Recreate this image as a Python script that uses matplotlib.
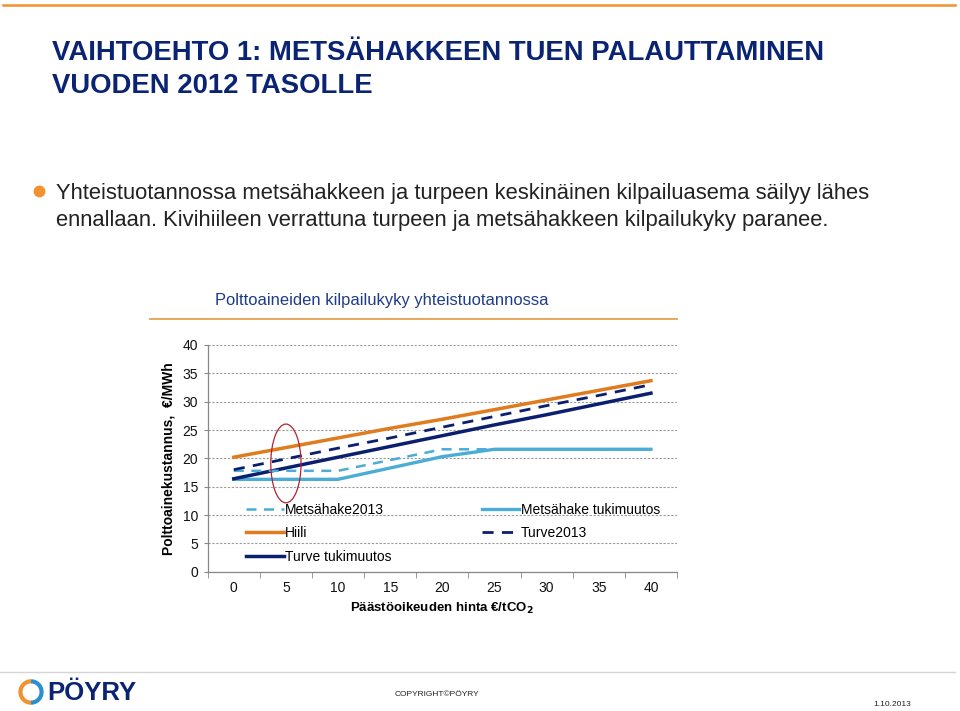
import matplotlib
matplotlib.use("Agg")
import matplotlib.pyplot as plt
from matplotlib.patches import Ellipse, Arc
from matplotlib.lines import Line2D

plt.rcParams['font.family'] = ['Liberation Sans', 'DejaVu Sans']

# ---- data ----
co2_price = ['0', '5', '10', '15', '20', '25', '30', '35', '40']
metsahake_2013 = [17.8, 17.8, 17.8, 19.7, 21.6, 21.6, 21.6, 21.6, 21.6]
metsahake_tuki = [16.3, 16.3, 16.3, 18.3, 20.3, 21.6, 21.6, 21.6, 21.6]
hiili = [20.2, 21.9, 23.6, 25.3, 26.9, 28.6, 30.3, 32.0, 33.7]
turve_2013 = [18.0, 19.9, 21.8, 23.6, 25.5, 27.4, 29.3, 31.1, 33.0]
turve_tuki = [16.4, 18.3, 20.2, 22.1, 24.0, 25.9, 27.7, 29.6, 31.5]

title_lines = ["VAIHTOEHTO 1: METSÄHAKKEEN TUEN PALAUTTAMINEN", "VUODEN 2012 TASOLLE"]
bullet_lines = ["Yhteistuotannossa metsähakkeen ja turpeen keskinäinen kilpailuasema säilyy lähes",
                "ennallaan. Kivihiileen verrattuna turpeen ja metsähakkeen kilpailukyky paranee."]
chart_title = "Polttoaineiden kilpailukyky yhteistuotannossa"
ylabel = "Polttoainekustannus,  €/MWh"
xlabel = "Päästöoikeuden hinta €/tCO$_\\mathbf{2}$"

NAVY = "#0B1F6E"
LBLUE = "#4BACD6"
ORANGE = "#E07B1E"
TITLE_C = "#0A2473"

W, H = 960, 711
fig = plt.figure(figsize=(9.6, 7.11), dpi=100)

def fx(px):
    return px / W

def fy(py):
    return 1 - py / H

# top orange rule
fig.add_artist(Line2D([fx(3), fx(955)], [fy(5), fy(5)], color="#F0922E", lw=1.8))
# title
fig.text(fx(52), fy(53), title_lines[0], fontsize=19.8,
         fontweight='bold', color=TITLE_C, va='center', ha='left')
fig.text(fx(52), fy(86), title_lines[1], fontsize=19.8,
         fontweight='bold', color=TITLE_C, va='center', ha='left')
# bullet
fig.add_artist(Line2D([fx(39)], [fy(191)], marker='o', markersize=7.5, color="#F0922E", lw=0))
fig.text(fx(56), fy(193), bullet_lines[0], fontsize=15.8, color="#222222", va='center')
fig.text(fx(56), fy(220), bullet_lines[1], fontsize=15.8, color="#222222", va='center')

# chart title and underline
fig.text(fx(382), fy(301), chart_title, fontsize=11.9, color="#1F3C88", ha='center', va='center')
fig.add_artist(Line2D([fx(150), fx(677)], [fy(319), fy(319)], color="#E9A04E", lw=1.3))

# axes
ax = fig.add_axes([fx(207.7), fy(571.7), fx(677 - 207.7), (571.7 - 345) / H])
x = list(range(len(co2_price)))
ax.plot(x, metsahake_tuki, color=LBLUE, lw=2.4, label="Metsähake tukimuutos", zorder=3)
ax.plot(x, metsahake_2013, color=LBLUE, lw=1.8, ls=(0, (4, 3)), label="Metsähake2013", zorder=4)
ax.plot(x, hiili, color=ORANGE, lw=2.5, label="Hiili", zorder=3)
ax.plot(x, turve_2013, color=NAVY, lw=2.0, ls=(0, (4, 3)), label="Turve2013", zorder=4)
ax.plot(x, turve_tuki, color=NAVY, lw=2.5, label="Turve tukimuutos", zorder=3)

ax.set_xlim(-0.5, len(co2_price) - 0.5)
ax.set_ylim(0, 40)
ax.set_yticks(range(0, 41, 5))
ax.set_xticks(x)
ax.set_xticklabels(co2_price)
ax.set_xticks([i - 0.5 for i in range(len(co2_price) + 1)], minor=True)
ax.tick_params(axis='x', which='major', length=0, labelsize=10, pad=7)
ax.tick_params(axis='x', which='minor', length=4, color="#888888", direction='out')
ax.tick_params(axis='y', length=3, color="#888888", labelsize=10, pad=4)
for lab in ax.get_xticklabels() + ax.get_yticklabels():
    lab.set_color("#111111")
ax.grid(axis='y', color="#9A9A9A", ls=(0, (2, 1.5)), lw=0.8)
ax.set_axisbelow(True)
for s in ['top', 'right']:
    ax.spines[s].set_visible(False)
for s in ['left', 'bottom']:
    ax.spines[s].set_color("#888888")
    ax.spines[s].set_linewidth(0.9)

ax.set_ylabel(ylabel, fontsize=10, fontweight='bold', labelpad=5)
ax.set_xlabel(xlabel, fontsize=9.5, fontweight='bold', labelpad=4)

# legend
handles, labels = ax.get_legend_handles_labels()
order = ["Metsähake2013", "Hiili", "Turve tukimuutos", "Metsähake tukimuutos", "Turve2013"]
hmap = dict(zip(labels, handles))
leg = ax.legend([hmap[k] for k in order], order, ncol=2, loc='lower left',
                bbox_to_anchor=(0.055, -0.02), frameon=False, fontsize=10,
                handlelength=2.7, handletextpad=0.1, columnspacing=6.5,
                labelspacing=0.68)

# red ellipse highlight
ax.add_patch(Ellipse((1.0, 19.1), 0.58, 13.9, fill=False, edgecolor="#B22234", lw=0.9, zorder=6))

# footer
fig.add_artist(Line2D([fx(0), fx(955)], [fy(672), fy(672)], color="#D5D5D5", lw=1.0))
fig.add_artist(Arc((fx(31), fy(692)), 0.022, 0.030, theta1=90, theta2=270,
                   transform=fig.transFigure, color="#F0922E", lw=3))
fig.add_artist(Arc((fx(31), fy(692)), 0.022, 0.030, theta1=-90, theta2=90,
                   transform=fig.transFigure, color="#2A8FCF", lw=3))
fig.text(fx(47), fy(693), "PÖYRY", fontsize=18.5, fontweight='bold', color=TITLE_C, va='center')
fig.text(fx(395), fy(694), "COPYRIGHT©PÖYRY", fontsize=6.0, color="#222222", va='center')
fig.text(fx(873), fy(705), "1.10.2013", fontsize=6.0, color="#222222", va='center')

fig.savefig("out.png", dpi=100)
